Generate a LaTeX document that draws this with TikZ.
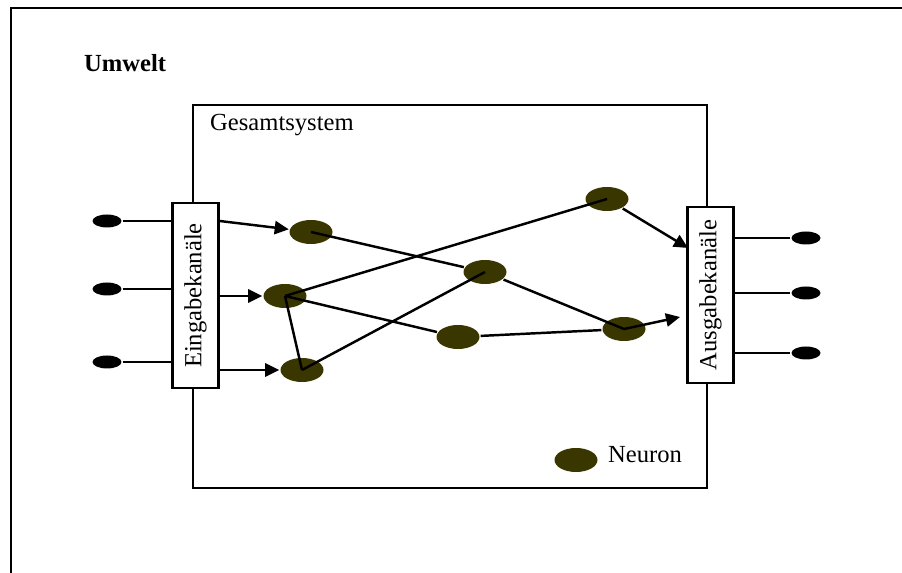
\documentclass[tikz,border=0pt]{standalone}
\usepackage{fontspec}
\setmainfont{Liberation Serif}
\usetikzlibrary{shapes.geometric,arrows.meta}
\definecolor{neuronfill}{RGB}{58,54,0}

\begin{document}
\begin{tikzpicture}[x=0.02cm,y=-0.02cm,line width=1.4pt,
	font=\fontsize{14}{16}\selectfont,
	neuron/.style={ellipse,fill=neuronfill,inner sep=0,minimum width=0.86cm,minimum height=0.48cm},
	io/.style={ellipse,fill=black,inner sep=0,minimum width=0.58cm,minimum height=0.26cm},
	kanal/.style={draw,fill=white,rotate=90,inner sep=0,minimum height=0.92cm},
	label/.style={anchor=base west,inner sep=0},
	arr/.style={-{Triangle[length=8pt,width=7.5pt]}}]
	\useasboundingbox (0,0) rectangle (902,573);
	\draw (902,8) -- (11,8) -- (11,573);
	\node[label] (umwelt) at (83,72) {\bfseries Umwelt};
	\draw (193,105) rectangle (707,488);
	\node[label] (sys) at (209,131) {Gesamtsystem};
	\node[kanal,minimum width=3.7cm] (ein) at (195.5,295.5) {Eingabekanäle};
	\node[kanal,minimum width=3.52cm] (aus) at (710.5,295) {Ausgabekanäle};
	\node[io] (e1) at (107,221) {};
	\node[io] (e2) at (107,289) {};
	\node[io] (e3) at (107,362) {};
	\node[io] (a1) at (806,238) {};
	\node[io] (a2) at (806,293) {};
	\node[io] (a3) at (806,353) {};
	\draw (e1) -- (e1 -| ein.north);
	\draw (e2) -- (e2 -| ein.north);
	\draw (e3) -- (e3 -| ein.north);
	\draw (a1 -| aus.south) -- (a1);
	\draw (a2 -| aus.south) -- (a2);
	\draw (a3 -| aus.south) -- (a3);
	\node[neuron] (1) at (311,232) {};
	\node[neuron] (2) at (285,296) {};
	\node[neuron] (3) at (302,370) {};
	\node[neuron] (4) at (607,199) {};
	\node[neuron] (5) at (485,272) {};
	\node[neuron] (6) at (458,337) {};
	\node[neuron] (7) at (624,329) {};
	\draw (1.center) -- (5);
	\draw (2.center) -- (4.center);
	\draw (2.center) -- (6);
	\draw (2.center) -- (3.center);
	\draw (3.center) -- (5.center);
	\draw (5) -- (7.center);
	\draw (6) -- (7);
	\coordinate (z1) at (688,248);
	\coordinate (z2) at (680,317);
	\draw[arr] (ein.south |- e1) -- (1);
	\draw[arr] (ein.south |- 2) -- (2);
	\draw[arr] (ein.south |- 3) -- (3);
	\draw[arr] (4) -- (z1);
	\draw[arr] (7.center) -- (z2);
	\node[neuron] (8) at (576,460) {};
	\node[label] (leg) at (607,463) {Neuron};
\end{tikzpicture}
\end{document}
